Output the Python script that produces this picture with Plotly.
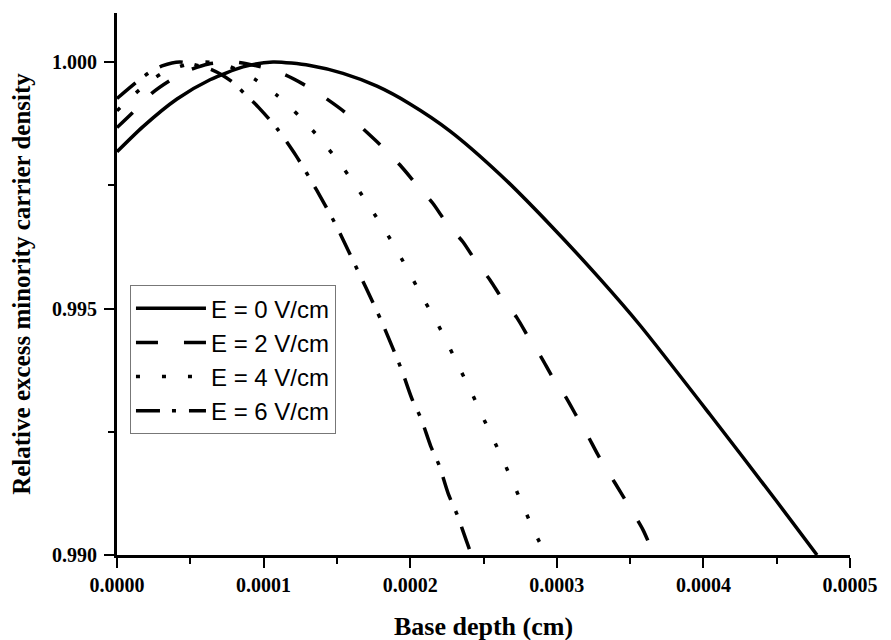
import plotly.graph_objects as go

# ---- data (Base depth in cm, relative density) ----
depth_e0 = [0.0, 1.774e-5, 4.093e-5, 6.344e-5, 8.595e-5, 1.0641e-4, 1.3165e-4, 1.5416e-4,
            1.7735e-4, 1.9986e-4, 2.2715e-4, 2.6126e-4, 2.9536e-4, 3.2947e-4, 3.5675e-4,
            4.0450e-4, 4.5020e-4, 4.7749e-4]
rel_e0 = [0.99818, 0.99869, 0.99925, 0.99964, 0.99990, 1.00000, 0.99993, 0.99977,
          0.99951, 0.99915, 0.99860, 0.99772, 0.99670, 0.99560, 0.99466,
          0.99285, 0.99108, 0.99000]

depth_e2 = [0.0, 1.023e-5, 2.387e-5, 3.636e-5, 4.980e-5, 6.255e-5, 8.049e-5, 1.0211e-4,
            1.1460e-4, 1.2824e-4, 1.4072e-4, 1.5553e-4, 1.6692e-4, 1.8165e-4, 1.9304e-4,
            2.0553e-4, 2.1555e-4, 2.2578e-4, 2.3602e-4, 2.4557e-4, 2.5443e-4, 2.6330e-4,
            2.7285e-4, 2.8172e-4, 2.8922e-4, 2.9741e-4, 3.0559e-4, 3.1378e-4, 3.2060e-4,
            3.2810e-4, 3.3561e-4, 3.4379e-4, 3.5130e-4, 3.5880e-4, 3.6630e-4]
rel_e2 = [0.99867, 0.99896, 0.99937, 0.99963, 0.99984, 0.99996, 1.00000, 0.99987,
          0.99974, 0.99953, 0.99930, 0.99898, 0.99867, 0.99826, 0.99791,
          0.99747, 0.99713, 0.99669, 0.99635, 0.99592, 0.99558, 0.99517,
          0.99481, 0.99436, 0.99402, 0.99359, 0.99323, 0.99280, 0.99245,
          0.99203, 0.99166, 0.99126, 0.99089, 0.99051, 0.99000]

depth_e4 = [0.0, 1.589e-5, 3.070e-5, 4.638e-5, 6.003e-5, 7.572e-5, 9.345e-5, 1.0935e-4,
            1.2483e-4, 1.3915e-4, 1.5164e-4, 1.6282e-4, 1.7326e-4, 1.8329e-4, 1.9188e-4,
            2.1010e-4, 2.1849e-4, 2.2647e-4, 2.3397e-4, 2.4195e-4, 2.4918e-4, 2.5669e-4,
            2.6398e-4, 2.7081e-4, 2.7763e-4, 2.8445e-4, 2.9263e-4]
rel_e4 = [0.99901, 0.99945, 0.99977, 0.99994, 1.00000, 0.99992, 0.99966, 0.99932,
          0.99889, 0.99842, 0.99796, 0.99749, 0.99702, 0.99656, 0.99613,
          0.99514, 0.99470, 0.99423, 0.99377, 0.99329, 0.99282, 0.99235,
          0.99188, 0.99142, 0.99095, 0.99049, 0.99000]

depth_e6 = [0.0, 1.364e-5, 2.272e-5, 3.070e-5, 4.297e-5, 6.480e-5, 7.844e-5, 8.731e-5,
            9.686e-5, 1.0894e-4, 1.2210e-4, 1.3622e-4, 1.4939e-4, 1.5846e-4, 1.6985e-4,
            1.8056e-4, 1.9420e-4, 2.0102e-4, 2.0737e-4, 2.1398e-4, 2.1985e-4, 2.2599e-4,
            2.3213e-4, 2.3854e-4, 2.4181e-4]
rel_e6 = [0.99926, 0.99960, 0.99980, 0.99992, 1.00000, 0.99984, 0.99960, 0.99935,
          0.99907, 0.99866, 0.99810, 0.99740, 0.99669, 0.99613, 0.99542,
          0.99473, 0.99375, 0.99318, 0.99277, 0.99221, 0.99181, 0.99124,
          0.99081, 0.99027, 0.99000]

series_names = ["E = 0 V/cm", "E = 2 V/cm", "E = 4 V/cm", "E = 6 V/cm"]
x_tick_vals = [0.0, 0.0001, 0.0002, 0.0003, 0.0004, 0.0005]
x_tick_text = ["0.0000", "0.0001", "0.0002", "0.0003", "0.0004", "0.0005"]
y_tick_vals = [0.990, 0.995, 1.000]
y_tick_text = ["0.990", "0.995", "1.000"]

dash_styles = ["solid", "22px,26px", "4px,22px", "24px,12px,4px,13px"]
xs = [depth_e0, depth_e2, depth_e4, depth_e6]
ys = [rel_e0, rel_e2, rel_e4, rel_e6]

fig = go.Figure()
for name, x, y, d in zip(series_names, xs, ys, dash_styles):
    fig.add_trace(go.Scatter(
        x=x, y=y, mode="lines", name=name,
        line=dict(color="black", width=3.5, dash=d, shape="spline", smoothing=0.7),
    ))

serif = "Liberation Serif"
fig.update_layout(
    width=891, height=640,
    margin=dict(l=109, r=49, t=5, b=93),
    paper_bgcolor="white", plot_bgcolor="white",
    showlegend=True,
    legend=dict(
        x=0.0177, y=0.498, xanchor="left", yanchor="top",
        bordercolor="#777777", borderwidth=1, bgcolor="white",
        font=dict(family="Liberation Sans", size=24, color="black"),
        tracegroupgap=0, itemwidth=70,
    ),
)
fig.update_xaxes(
    range=[0, 0.0005], tickvals=x_tick_vals, ticktext=x_tick_text,
    showgrid=False, zeroline=False, showline=True, linecolor="black", linewidth=3,
    ticks="outside", ticklen=10, tickwidth=2, tickcolor="black",
    minor=dict(ticks="outside", ticklen=6, tickwidth=2, tickcolor="black", dtick=0.00005, showgrid=False),
    tickfont=dict(family=serif, size=20, color="black", weight="bold"),
    automargin=False,
    title=dict(text="Base depth (cm)", font=dict(family=serif, size=26, color="black", weight="bold"), standoff=22),
)
fig.update_yaxes(
    range=[0.99, 1.000994], tickvals=y_tick_vals, ticktext=y_tick_text,
    showgrid=False, zeroline=False, showline=True, linecolor="black", linewidth=3,
    ticks="outside", ticklen=10, tickwidth=2, tickcolor="black",
    minor=dict(ticks="outside", ticklen=6, tickwidth=2, tickcolor="black", dtick=0.0025, showgrid=False),
    tickfont=dict(family=serif, size=20, color="black", weight="bold"),
    ticklabelstandoff=3, automargin=False,
    title=dict(text="Relative excess minority carrier density", font=dict(family=serif, size=25, color="black", weight="bold"), standoff=18),
)

fig.write_html("out.html")
